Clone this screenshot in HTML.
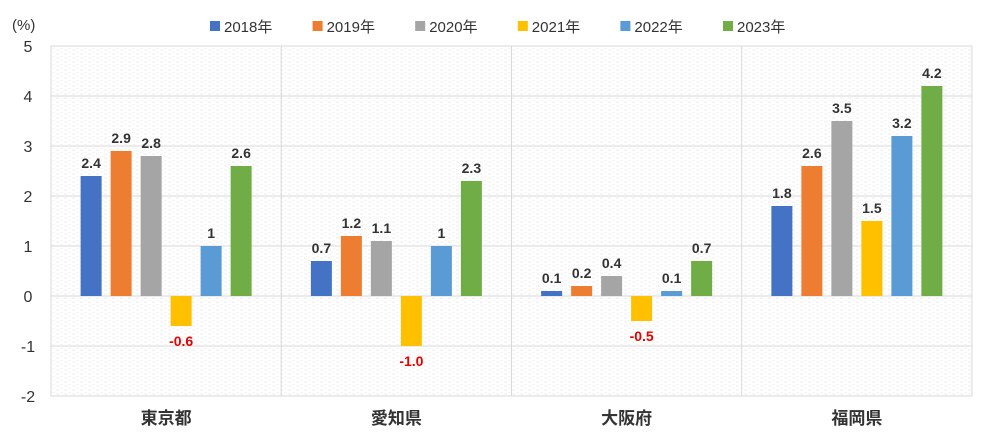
<!DOCTYPE html>
<html><head><meta charset="utf-8"><style>
body{margin:0;background:#fff;font-family:"Liberation Sans","Noto Sans CJK JP",sans-serif;}
svg text{font-family:"Liberation Sans","Noto Sans CJK JP",sans-serif;}
</style></head><body>
<svg width="1000" height="437" viewBox="0 0 1000 437">
<defs><pattern id="pt" width="8" height="4" patternUnits="userSpaceOnUse"><rect width="8" height="4" fill="#fff"/><path d="M0 2h3M4 0h3" stroke="#eeeeee" stroke-width="1"/></pattern></defs>
<rect x="51" y="46" width="921" height="350" fill="url(#pt)" stroke="#d9d9d9"/>
<g id="grid"></g><g id="bars"></g><g id="legend"></g>
<text x="12" y="30" font-size="15" fill="#333">(%)</text>
</svg>
<script>
const categories=["東京都","愛知県","大阪府","福岡県"];
const seriesNames=["2018年","2019年","2020年","2021年","2022年","2023年"];
const colors=["#4472c4","#ed7d31","#a5a5a5","#ffc000","#5b9bd5","#70ad47"];
const s2018=[2.4,0.7,0.1,1.8];
const s2019=[2.9,1.2,0.2,2.6];
const s2020=[2.8,1.1,0.4,3.5];
const s2021=[-0.6,-1.0,-0.5,1.5];
const s2022=[1,1,0.1,3.2];
const s2023=[2.6,2.3,0.7,4.2];
const labels2021=["-0.6","-1.0","-0.5","1.5"];
const yTicks=[5,4,3,2,1,0,-1,-2];
const series=[s2018,s2019,s2020,s2021,s2022,s2023];
const NS="http://www.w3.org/2000/svg";
const x0=51,cw=230.25,yTop=46,yBot=396,ymax=5,ymin=-2;
function y(v){return yTop+(ymax-v)/(ymax-ymin)*(yBot-yTop);}
function cx(i){return x0+cw*(i+0.5);}
function mk(tag,attrs,parent,txt){const e=document.createElementNS(NS,tag);for(const k in attrs)e.setAttribute(k,attrs[k]);if(txt!==undefined)e.textContent=txt;parent.appendChild(e);return e;}
const grid=document.getElementById('grid'),bars=document.getElementById('bars'),leg=document.getElementById('legend');
yTicks.forEach(t=>{
 const l=mk('line',{x1:x0,x2:972,y1:y(t),y2:y(t),stroke:'#d9d9d9'},grid);
 
 
 const tx=mk('text',{x:28,y:y(t)+6,'font-size':16,fill:'#333','text-anchor':'middle'},grid,String(t));
 
 
});
categories.forEach((c,i)=>{
 if(i>0){const d=mk('line',{x1:x0+cw*i,x2:x0+cw*i,y1:yTop,y2:yBot,stroke:'#d9d9d9'},grid);
 
 }
 const t=mk('text',{x:cx(i),y:424,'font-size':17,'font-weight':'bold',fill:'#333','text-anchor':'middle'},grid,c);
 
 
 series.forEach((s,j)=>{
  const v=s[i],bx=cx(i)+(j-2.5)*30-10.5,top=Math.min(y(v),y(0)),h=Math.abs(y(v)-y(0));
  const r=mk('rect',{x:bx,y:top,width:21,height:h,fill:colors[j]},bars);
  
  
  const lbl=j===3?labels2021[i]:String(v);
  const neg=v<0;
  const lt=mk('text',{x:bx+10.5,y:neg?y(v)+20:y(v)-8,'font-size':14,'font-weight':'bold',fill:neg?'#e00000':'#333','text-anchor':'middle'},bars,lbl);
  
  
 });
});
seriesNames.forEach((n,j)=>{
 const lx=210+j*102.6;
 const sq=mk('rect',{x:lx,y:21,width:10,height:10,fill:colors[j]},leg);
 
 
 const t=mk('text',{x:lx+14,y:32,'font-size':15,fill:'#333'},leg,n);
 
 
});
</script>
</body></html>
